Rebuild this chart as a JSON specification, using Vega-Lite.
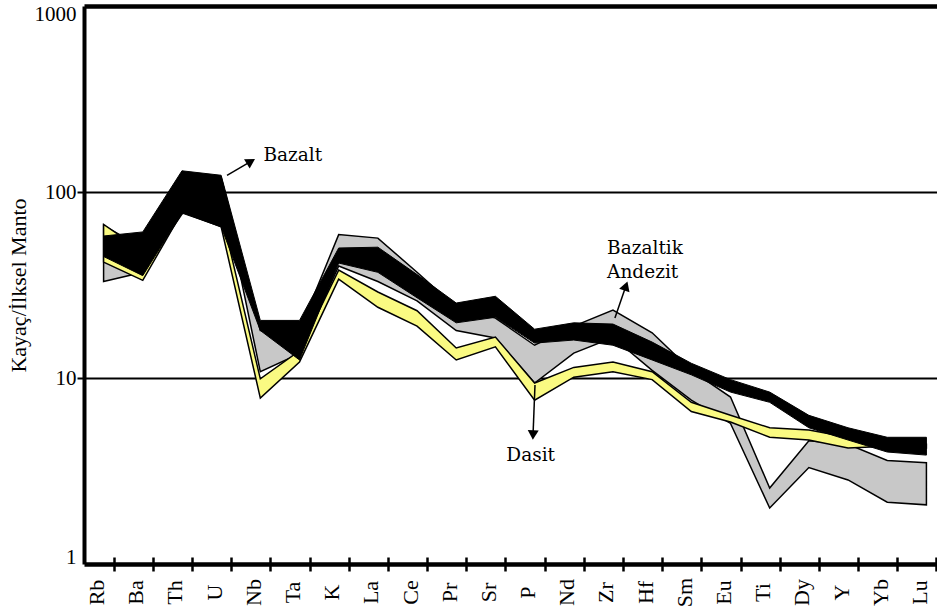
{
  "$schema": "https://vega.github.io/schema/vega-lite/v6.json",
  "width": 853,
  "height": 558,
  "autosize": {"type": "none"},
  "padding": {"left": 84, "top": 6, "right": 0, "bottom": 50},
  "background": "white",
  "config": {
    "view": {"stroke": null},
    "font": "Liberation Serif"
  },
  "datasets": {
    "bands": [
      {"element": "Rb", "group": "Bazaltik Andezit", "pos": 0, "val": 33, "val2": 66},
      {"element": "Ba", "group": "Bazaltik Andezit", "pos": 1, "val": 37, "val2": 50},
      {"element": "Th", "group": "Bazaltik Andezit", "pos": 2, "val": 76, "val2": 110},
      {"element": "U", "group": "Bazaltik Andezit", "pos": 3, "val": 112, "val2": 120},
      {"element": "Nb", "group": "Bazaltik Andezit", "pos": 4, "val": 10.8, "val2": 18},
      {"element": "Ta", "group": "Bazaltik Andezit", "pos": 5, "val": 13.5, "val2": 18},
      {"element": "K", "group": "Bazaltik Andezit", "pos": 6, "val": 40, "val2": 59},
      {"element": "La", "group": "Bazaltik Andezit", "pos": 7, "val": 33, "val2": 56.5},
      {"element": "Ce", "group": "Bazaltik Andezit", "pos": 8, "val": 26, "val2": 37},
      {"element": "Pr", "group": "Bazaltik Andezit", "pos": 9, "val": 18, "val2": 24},
      {"element": "Sr", "group": "Bazaltik Andezit", "pos": 10, "val": 16.4, "val2": 21},
      {"element": "P", "group": "Bazaltik Andezit", "pos": 11, "val": 9.4, "val2": 15},
      {"element": "Nd", "group": "Bazaltik Andezit", "pos": 12, "val": 13.6, "val2": 19},
      {"element": "Zr", "group": "Bazaltik Andezit", "pos": 13, "val": 16.5, "val2": 23.2},
      {"element": "Hf", "group": "Bazaltik Andezit", "pos": 14, "val": 11, "val2": 17.5},
      {"element": "Sm", "group": "Bazaltik Andezit", "pos": 15, "val": 7.6, "val2": 11},
      {"element": "Eu", "group": "Bazaltik Andezit", "pos": 16, "val": 5.7, "val2": 7.9},
      {"element": "Ti", "group": "Bazaltik Andezit", "pos": 17, "val": 2.0, "val2": 2.56},
      {"element": "Dy", "group": "Bazaltik Andezit", "pos": 18, "val": 3.3, "val2": 4.6},
      {"element": "Y", "group": "Bazaltik Andezit", "pos": 19, "val": 2.83, "val2": 4.4},
      {"element": "Yb", "group": "Bazaltik Andezit", "pos": 20, "val": 2.15, "val2": 3.6},
      {"element": "Lu", "group": "Bazaltik Andezit", "pos": 21, "val": 2.08, "val2": 3.5},

      {"element": "Rb", "group": "Dasit", "pos": 0, "val": 42, "val2": 67},
      {"element": "Ba", "group": "Dasit", "pos": 1, "val": 33.5, "val2": 48},
      {"element": "Th", "group": "Dasit", "pos": 2, "val": 78, "val2": 100},
      {"element": "U", "group": "Dasit", "pos": 3, "val": 65, "val2": 78},
      {"element": "Nb", "group": "Dasit", "pos": 4, "val": 7.8, "val2": 9.9},
      {"element": "Ta", "group": "Dasit", "pos": 5, "val": 12.2, "val2": 14},
      {"element": "K", "group": "Dasit", "pos": 6, "val": 34, "val2": 38},
      {"element": "La", "group": "Dasit", "pos": 7, "val": 24, "val2": 29},
      {"element": "Ce", "group": "Dasit", "pos": 8, "val": 19, "val2": 23},
      {"element": "Pr", "group": "Dasit", "pos": 9, "val": 12.5, "val2": 14.5},
      {"element": "Sr", "group": "Dasit", "pos": 10, "val": 14.7, "val2": 16.6},
      {"element": "P", "group": "Dasit", "pos": 11, "val": 7.6, "val2": 9.4},
      {"element": "Nd", "group": "Dasit", "pos": 12, "val": 10.1, "val2": 11.4},
      {"element": "Zr", "group": "Dasit", "pos": 13, "val": 10.8, "val2": 12.2},
      {"element": "Hf", "group": "Dasit", "pos": 14, "val": 9.8, "val2": 10.8},
      {"element": "Sm", "group": "Dasit", "pos": 15, "val": 6.6, "val2": 7.4},
      {"element": "Eu", "group": "Dasit", "pos": 16, "val": 5.8, "val2": 6.3},
      {"element": "Ti", "group": "Dasit", "pos": 17, "val": 4.8, "val2": 5.4},
      {"element": "Dy", "group": "Dasit", "pos": 18, "val": 4.64, "val2": 5.25},
      {"element": "Y", "group": "Dasit", "pos": 19, "val": 4.2, "val2": 4.8},
      {"element": "Yb", "group": "Dasit", "pos": 20, "val": 4.3, "val2": 4.4},
      {"element": "Lu", "group": "Dasit", "pos": 21, "val": 4.2, "val2": 4.4},

      {"element": "Rb", "group": "Bazalt", "pos": 0, "val": 45, "val2": 58},
      {"element": "Ba", "group": "Bazalt", "pos": 1, "val": 35.5, "val2": 61},
      {"element": "Th", "group": "Bazalt", "pos": 2, "val": 77, "val2": 130},
      {"element": "U", "group": "Bazalt", "pos": 3, "val": 65, "val2": 123},
      {"element": "Nb", "group": "Bazalt", "pos": 4, "val": 18, "val2": 20.4},
      {"element": "Ta", "group": "Bazalt", "pos": 5, "val": 12.5, "val2": 20.4},
      {"element": "K", "group": "Bazalt", "pos": 6, "val": 41.5, "val2": 50},
      {"element": "La", "group": "Bazalt", "pos": 7, "val": 37, "val2": 50.5},
      {"element": "Ce", "group": "Bazalt", "pos": 8, "val": 27, "val2": 36},
      {"element": "Pr", "group": "Bazalt", "pos": 9, "val": 19.8, "val2": 25.3},
      {"element": "Sr", "group": "Bazalt", "pos": 10, "val": 21.2, "val2": 27.5},
      {"element": "P", "group": "Bazalt", "pos": 11, "val": 15.4, "val2": 18.3},
      {"element": "Nd", "group": "Bazalt", "pos": 12, "val": 16, "val2": 19.8},
      {"element": "Zr", "group": "Bazalt", "pos": 13, "val": 15, "val2": 19.5},
      {"element": "Hf", "group": "Bazalt", "pos": 14, "val": 12.5, "val2": 15.6},
      {"element": "Sm", "group": "Bazalt", "pos": 15, "val": 10.4, "val2": 12},
      {"element": "Eu", "group": "Bazalt", "pos": 16, "val": 8.4, "val2": 9.8},
      {"element": "Ti", "group": "Bazalt", "pos": 17, "val": 7.4, "val2": 8.4},
      {"element": "Dy", "group": "Bazalt", "pos": 18, "val": 5.4, "val2": 6.3},
      {"element": "Y", "group": "Bazalt", "pos": 19, "val": 4.64, "val2": 5.4},
      {"element": "Yb", "group": "Bazalt", "pos": 20, "val": 4.0, "val2": 4.8},
      {"element": "Lu", "group": "Bazalt", "pos": 21, "val": 3.85, "val2": 4.8}
    ],
    "arrows": [
      {"note": "Bazalt", "pos": 3.15, "val": 123, "pos2": 3.76, "val2": 146},
      {"note": "Bazaltik Andezit", "pos": 13.05, "val": 21, "pos2": 13.33, "val2": 31.2},
      {"note": "Dasit", "pos": 11.01, "val": 9.16, "pos2": 10.96, "val2": 4.94}
    ],
    "heads": [
      {"note": "Bazalt", "pos": 3.76, "val": 146},
      {"note": "Bazaltik Andezit", "pos": 13.33, "val": 31.2},
      {"note": "Dasit", "pos": 10.96, "val": 4.94}
    ],
    "notes": [
      {"note": "Bazalt", "text": "Bazalt", "pos": 4.08, "val": 158},
      {"note": "Bazaltik Andezit", "text": "Bazaltik\nAndezit", "pos": 12.85, "val": 50},
      {"note": "Dasit", "text": "Dasit", "pos": 10.9, "val": 3.85}
    ]
  },
  "encoding": {
    "x": {
      "field": "pos",
      "type": "quantitative",
      "scale": {"domain": [-0.5, 21.27], "nice": false, "zero": false},
      "axis": {
        "title": null,
        "values": [0, 1, 2, 3, 4, 5, 6, 7, 8, 9, 10, 11, 12, 13, 14, 15, 16, 17, 18, 19, 20, 21],
        "labelExpr": "['Rb','Ba','Th','U','Nb','Ta','K','La','Ce','Pr','Sr','P','Nd','Zr','Hf','Sm','Eu','Ti','Dy','Y','Yb','Lu'][datum.value]",
        "grid": false,
        "domain": false,
        "offset": -7,
        "ticks": true,
        "tickSize": 14,
        "tickWidth": 2.5,
        "tickColor": "black",
        "tickOffset": 10,
        "labelOffset": -17,
        "labelAngle": 270,
        "labelAlign": "center",
        "labelBaseline": "middle",
        "labelPadding": 21,
        "labelFlush": false,
        "labelOverlap": false,
        "labelFont": "Liberation Serif",
        "labelFontSize": 22,
        "labelColor": "black"
      }
    },
    "y": {
      "field": "val",
      "type": "quantitative",
      "scale": {"type": "log", "domain": [1, 1000], "nice": false},
      "axis": {
        "title": "Kayaç/İlksel Manto",
        "values": [1, 10, 100, 1000],
        "format": "d",
        "grid": true,
        "gridColor": "black",
        "gridOpacity": 1,
        "gridWidth": {"condition": {"test": "datum.value === 1 || datum.value === 1000", "value": 4.5}, "value": 1.8},
        "domain": true,
        "domainColor": "black",
        "domainWidth": 4,
        "ticks": true,
        "tickSize": 7,
        "tickWidth": 2,
        "tickColor": "black",
        "tickOpacity": {"condition": {"test": "datum.value === 1 || datum.value === 1000", "value": 0}, "value": 1},
        "labelFont": "Liberation Serif",
        "labelFontSize": 21,
        "labelColor": "black",
        "labelPadding": 1,
        "labelFlush": true,
        "labelFlushOffset": 3,
        "titleFont": "Liberation Serif",
        "titleFontSize": 22,
        "titleFontWeight": "normal",
        "titleColor": "black",
        "titlePadding": 4
      }
    }
  },
  "layer": [
    {
      "data": {"name": "bands"},
      "transform": [{"filter": "datum.group === 'Bazaltik Andezit'"}],
      "mark": {"type": "area", "fill": "#c8c8c8", "stroke": "black", "strokeWidth": 1.5, "fillOpacity": 1},
      "encoding": {"y2": {"field": "val2"}}
    },
    {
      "data": {"name": "bands"},
      "transform": [{"filter": "datum.group === 'Dasit'"}],
      "mark": {"type": "area", "fill": "#fafa82", "stroke": "black", "strokeWidth": 1.5, "fillOpacity": 1},
      "encoding": {"y2": {"field": "val2"}}
    },
    {
      "data": {"name": "bands"},
      "transform": [{"filter": "datum.group === 'Bazalt'"}],
      "mark": {"type": "area", "fill": "black", "stroke": "black", "strokeWidth": 1, "fillOpacity": 1},
      "encoding": {"y2": {"field": "val2"}}
    },
    {
      "data": {"name": "arrows"},
      "mark": {"type": "rule", "color": "black", "strokeWidth": 1.5},
      "encoding": {"x2": {"field": "pos2"}, "y2": {"field": "val2"}}
    },
    {
      "data": {"name": "heads"},
      "transform": [{"filter": "datum.note === 'Bazalt'"}],
      "mark": {"type": "point", "shape": "triangle-up", "filled": true, "color": "black", "opacity": 1, "size": 120, "angle": 59},
      "encoding": {}
    },
    {
      "data": {"name": "heads"},
      "transform": [{"filter": "datum.note === 'Bazaltik Andezit'"}],
      "mark": {"type": "point", "shape": "triangle-up", "filled": true, "color": "black", "opacity": 1, "size": 120, "angle": 19},
      "encoding": {}
    },
    {
      "data": {"name": "heads"},
      "transform": [{"filter": "datum.note === 'Dasit'"}],
      "mark": {"type": "point", "shape": "triangle-up", "filled": true, "color": "black", "opacity": 1, "size": 120, "angle": 182},
      "encoding": {}
    },
    {
      "data": {"name": "notes"},
      "transform": [{"filter": "datum.note !== 'Dasit'"}],
      "mark": {"type": "text", "font": "DejaVu Serif", "fontWeight": "normal", "fontSize": 18.5, "align": "left", "baseline": "middle", "color": "black", "lineBreak": "\n", "lineHeight": 24},
      "encoding": {"text": {"field": "text"}}
    },
    {
      "data": {"name": "notes"},
      "transform": [{"filter": "datum.note === 'Dasit'"}],
      "mark": {"type": "text", "font": "DejaVu Serif", "fontWeight": "normal", "fontSize": 18.5, "align": "center", "baseline": "middle", "color": "black"},
      "encoding": {"text": {"field": "text"}}
    }
  ]
}
